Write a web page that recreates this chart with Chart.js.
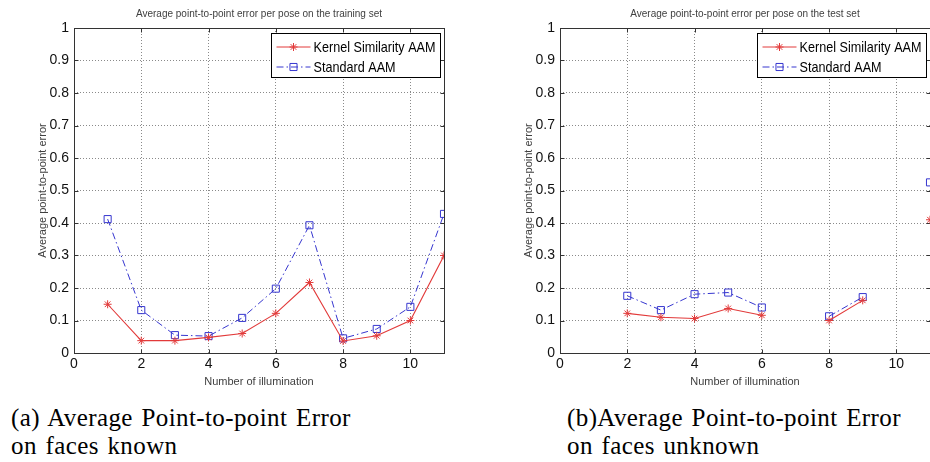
<!DOCTYPE html>
<html>
<head>
<meta charset="utf-8">
<script src="https://cdn.jsdelivr.net/npm/chart.js@4.4.1/dist/chart.umd.min.js"></script>
<style>
  html, body { margin: 0; padding: 0; background: #fff; overflow: hidden; }
  body { width: 930px; height: 462px; position: relative; }
  .plot { position: absolute; top: 0; }
  .caption {
    position: absolute; top: 404px;
    font-family: 'Liberation Serif', 'DejaVu Serif', serif;
    font-size: 25px; line-height: 28px;
    letter-spacing: 0.4px; word-spacing: 2px;
    color: #000; white-space: nowrap;
  }
</style>
</head>
<body>
<canvas id="trainChart" class="plot" width="465" height="392" style="left:0px"></canvas>
<canvas id="testChart" class="plot" width="465" height="392" style="left:486px"></canvas>
<div class="caption" style="left:11px">(a) Average Point-to-point Error<br>on faces known</div>
<div class="caption" style="left:567px">(b)Average Point-to-point Error<br>on faces unknown</div>
<script>
// values
const illumination = [1, 2, 3, 4, 5, 6, 7, 8, 9, 10, 11];
const kernelTrain   = [0.150, 0.038, 0.038, 0.048, 0.060, 0.122, 0.217, 0.037, 0.053, 0.100, 0.300];
const standardTrain = [0.412, 0.132, 0.055, 0.052, 0.108, 0.198, 0.393, 0.045, 0.074, 0.142, 0.428];
// test set has no value for illuminations 1, 7 and 10
const kernelTest    = [null, 0.122, 0.110, 0.106, 0.137, 0.116, null, 0.100, 0.162, null, 0.410];
const standardTest  = [null, 0.176, 0.132, 0.181, 0.186, 0.140, null, 0.113, 0.172, null, 0.525];

const xTicks = [0, 2, 4, 6, 8, 10];
const yTicks = [0, 0.1, 0.2, 0.3, 0.4, 0.5, 0.6, 0.7, 0.8, 0.9, 1];
const yTickLabels = ['0', '0.1', '0.2', '0.3', '0.4', '0.5', '0.6', '0.7', '0.8', '0.9', '1'];

const RED = '#e23a3a';
const BLUE = '#3636cf';
const FONT = "'Liberation Sans Narrow', 'Liberation Sans', Arial, sans-serif";

// matlab style box + inward tick marks
const framePlugin = {
  id: 'frame',
  beforeDatasetsDraw(chart) {
    const { ctx, chartArea: a, scales: { x, y } } = chart;
    ctx.save();
    ctx.strokeStyle = '#333';
    ctx.lineWidth = 1;
    ctx.setLineDash([]);
    const L = Math.round(a.left) + 0.5, T = Math.round(a.top) + 0.5;
    const R = Math.round(a.right) + 0.5, B = Math.round(a.bottom) + 0.5;
    ctx.strokeRect(L, T, R - L, B - T);
    ctx.beginPath();
    x.ticks.forEach(t => {
      const px = Math.round(x.getPixelForValue(t.value)) + 0.5;
      ctx.moveTo(px, B); ctx.lineTo(px, B - 4);
      ctx.moveTo(px, T); ctx.lineTo(px, T + 4);
    });
    y.ticks.forEach(t => {
      const py = Math.round(y.getPixelForValue(t.value)) + 0.5;
      ctx.moveTo(L, py); ctx.lineTo(L + 4, py);
      ctx.moveTo(R, py); ctx.lineTo(R - 4, py);
    });
    ctx.stroke();
    ctx.restore();
  }
};

// legend box in the upper right corner of the axes
const boxLegendPlugin = {
  id: 'boxLegend',
  afterDraw(chart) {
    const { ctx, chartArea: a } = chart;
    const w = 169, h = 44;
    const bx = Math.round(a.right - 4 - w) + 0.5;
    const by = Math.round(a.top + 5) + 0.5;
    ctx.save();
    ctx.fillStyle = '#fff';
    ctx.fillRect(bx, by, w, h);
    ctx.strokeStyle = '#000';
    ctx.lineWidth = 1;
    ctx.strokeRect(bx, by, w, h);

    ctx.font = '15px ' + FONT;
    const sx = Math.min(1, 122 / ctx.measureText('Kernel Similarity AAM').width);

    chart.data.datasets.forEach((ds, i) => {
      const cy = by + 13.5 + i * 20;
      ctx.strokeStyle = ds.borderColor;
      ctx.setLineDash(ds.borderDash || []);
      ctx.beginPath();
      ctx.moveTo(bx + 5, cy);
      ctx.lineTo(bx + 39, cy);
      ctx.stroke();
      ctx.setLineDash([]);
      ctx.fillStyle = 'rgba(0,0,0,0)';
      Chart.helpers.drawPoint(ctx, {
        pointStyle: ds.pointStyle, radius: ds.pointRadius, rotation: 0, borderWidth: 1
      }, bx + 22, cy);

      ctx.save();
      ctx.translate(bx + 42, cy + 1);
      ctx.scale(sx, 1);
      ctx.fillStyle = '#000';
      ctx.textBaseline = 'middle';
      ctx.fillText(ds.label, 0, 0);
      ctx.restore();
    });
    ctx.restore();
  }
};

function makeChart(id, title, kernel, standard) {
  const ctx = document.getElementById(id).getContext('2d');
  return new Chart(ctx, {
    type: 'line',
    data: {
      datasets: [
        {
          label: 'Kernel Similarity AAM',
          data: illumination.map((x, i) => ({ x: x, y: kernel[i] })),
          borderColor: RED,
          borderWidth: 1.1,
          pointStyle: 'star',
          pointRadius: 4,
          pointBorderColor: RED,
          pointBackgroundColor: 'rgba(0,0,0,0)',
          pointBorderWidth: 1,
          spanGaps: false,
          tension: 0
        },
        {
          label: 'Standard AAM',
          data: illumination.map((x, i) => ({ x: x, y: standard[i] })),
          borderColor: BLUE,
          borderWidth: 1,
          borderDash: [7, 3, 1.5, 3],
          pointStyle: 'rect',
          pointRadius: 5,
          pointBorderColor: BLUE,
          pointBackgroundColor: 'rgba(0,0,0,0)',
          pointBorderWidth: 1,
          spanGaps: false,
          tension: 0
        }
      ]
    },
    options: {
      responsive: false,
      animation: false,
      devicePixelRatio: 1,
      layout: { padding: { left: 0, right: 21, top: 0, bottom: 0 } },
      plugins: {
        legend: { display: false },
        tooltip: { enabled: false },
        title: {
          display: true,
          text: title,
          fullSize: false,
          color: '#404040',
          font: { family: FONT, size: 10, weight: 'normal' },
          padding: { top: 8, bottom: 8 }
        }
      },
      scales: {
        x: {
          type: 'linear',
          min: 0,
          max: 11,
          afterBuildTicks: s => { s.ticks = xTicks.map(v => ({ value: v })); },
          afterFit: s => { s.height = 39; },
          ticks: {
            color: '#111',
            font: { family: FONT, size: 14 },
            padding: 3,
            maxRotation: 0,
            autoSkip: false,
            callback: v => String(v)
          },
          grid: { color: '#8a8a8a', lineWidth: 1, drawTicks: false },
          border: { display: false, dash: [1, 2] },
          title: {
            display: true,
            text: 'Number of illumination',
            color: '#404040',
            font: { family: FONT, size: 11 },
            padding: { top: 0, bottom: 3 }
          }
        },
        y: {
          min: 0,
          max: 1,
          afterBuildTicks: s => { s.ticks = yTicks.map(v => ({ value: v })); },
          afterFit: s => { s.width = 74; },
          ticks: {
            color: '#111',
            font: { family: FONT, size: 14 },
            padding: 5,
            autoSkip: false,
            callback: (v, i) => yTickLabels[i]
          },
          grid: { color: '#8a8a8a', lineWidth: 1, drawTicks: false },
          border: { display: false, dash: [1, 2] },
          title: {
            display: true,
            text: 'Average point-to-point error',
            color: '#404040',
            font: { family: FONT, size: 11 },
            padding: { top: 36, bottom: 0 }
          }
        }
      }
    },
    plugins: [framePlugin, boxLegendPlugin]
  });
}

makeChart('trainChart', 'Average point-to-point error per pose on the training set', kernelTrain, standardTrain);
makeChart('testChart', 'Average point-to-point error per pose on the test set', kernelTest, standardTest);
</script>
</body>
</html>
